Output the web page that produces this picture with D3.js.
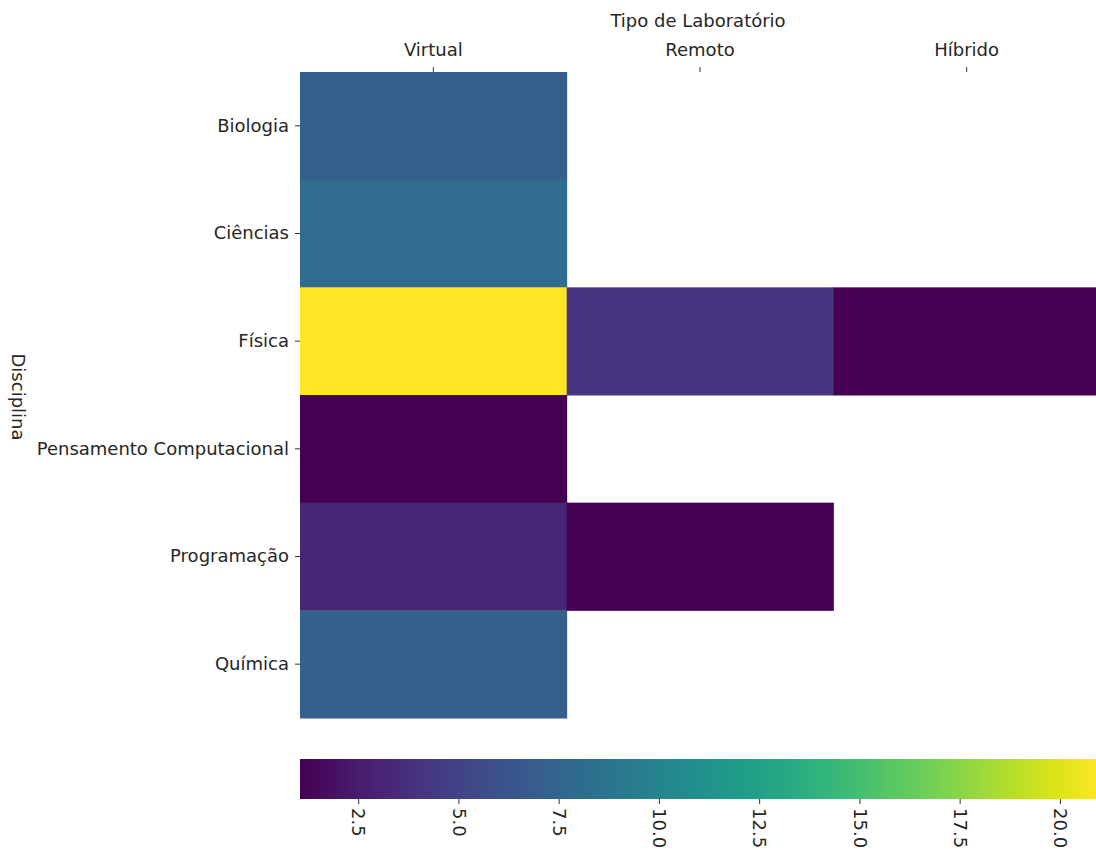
<!DOCTYPE html>
<html>
<head>
<meta charset="utf-8">
<script src="https://cdn.jsdelivr.net/npm/d3@7"></script>
<style>
  body { margin: 0; background: #fff; overflow: hidden; }
  text { font-family: "DejaVu Sans", sans-serif; fill: #262626; }
</style>
</head>
<body>
<div id="chart"></div>
<script>
// categories
var disciplinas = ['Biologia', 'Ciências', 'Física', 'Pensamento Computacional', 'Programação', 'Química'];
var tipos = ['Virtual', 'Remoto', 'Híbrido'];
// values per column (null = no data)
var virtualVals = [7, 8, 21, 1, 3, 7];
var remotoVals = [null, null, 4, null, 1, null];
var hibridoVals = [null, null, 1, null, null, null];
var colorTicks = [2.5, 5.0, 7.5, 10.0, 12.5, 15.0, 17.5, 20.0];

var cells = [];
[virtualVals, remotoVals, hibridoVals].forEach(function (vals, j) {
  vals.forEach(function (v, i) {
    if (v !== null) cells.push({ row: disciplinas[i], col: tipos[j], value: v });
  });
});

var W = 1096, H = 850;
// the plot runs a few pixels past the right edge, like the original
var mLeft = 300, mRight = 1100, mTop = 72, mBottom = 718;
var fs = '18px';

var svg = d3.select('#chart').append('svg')
  .attr('width', W)
  .attr('height', H);

var x = d3.scaleBand().domain(tipos).range([mLeft, mRight]);
var y = d3.scaleBand().domain(disciplinas).range([mTop, mBottom]);
var color = d3.scaleSequential(d3.interpolateViridis).domain([1, 21]);

svg.selectAll('rect.cell')
  .data(cells)
  .enter()
  .append('rect')
  .attr('class', 'cell')
  .attr('x', function (d) { return x(d.col); })
  .attr('y', function (d) { return y(d.row); })
  .attr('width', x.bandwidth() + 0.5)
  .attr('height', y.bandwidth() + 0.5)
  .style('fill', function (d) { return color(d.value); });

// top axis
var xAxis = svg.append('g')
  .attr('transform', 'translate(0,' + mTop + ')')
  .call(d3.axisTop(x).tickSize(5).tickPadding(11));
xAxis.select('.domain').remove();
xAxis.selectAll('.tick line').attr('stroke', '#333');
xAxis.selectAll('text').style('font-size', fs).attr('fill', '#262626');

svg.append('text')
  .attr('x', 698)
  .attr('y', 27)
  .attr('text-anchor', 'middle')
  .style('font-size', fs)
  .text('Tipo de Laboratório');

// left axis
var yAxis = svg.append('g')
  .attr('transform', 'translate(' + mLeft + ',0)')
  .call(d3.axisLeft(y).tickSize(5).tickPadding(6));
yAxis.select('.domain').remove();
yAxis.selectAll('.tick line').attr('stroke', '#333');
yAxis.selectAll('text').style('font-size', fs).attr('fill', '#262626');

svg.append('text')
  .attr('transform', 'translate(12,' + ((mTop + mBottom) / 2 + 2) + ') rotate(90)')
  .attr('text-anchor', 'middle')
  .style('font-size', fs)
  .text('Disciplina');

// colorbar
var cbTop = 759, cbH = 40;
var defs = svg.append('defs');
var grad = defs.append('linearGradient').attr('id', 'viridisGrad');
d3.range(0, 1.0001, 0.05).forEach(function (t) {
  grad.append('stop')
    .attr('offset', (t * 100) + '%')
    .attr('stop-color', d3.interpolateViridis(t));
});
svg.append('rect')
  .attr('x', mLeft)
  .attr('y', cbTop)
  .attr('width', mRight - mLeft)
  .attr('height', cbH)
  .style('fill', 'url(#viridisGrad)');

var cx = d3.scaleLinear().domain([1, 21]).range([mLeft - 2, mRight]);
var cAxis = svg.append('g')
  .attr('transform', 'translate(0,' + (cbTop + cbH) + ')')
  .call(d3.axisBottom(cx).tickValues(colorTicks).tickFormat(d3.format('.1f')).tickSize(5));
cAxis.select('.domain').remove();
cAxis.selectAll('.tick line').attr('stroke', '#333');
cAxis.selectAll('text')
  .style('font-size', fs)
  .attr('fill', '#262626')
  .attr('text-anchor', 'start')
  .attr('dy', '0.35em')
  .attr('y', 0)
  .attr('transform', 'translate(0,9) rotate(90)');
</script>
</body>
</html>
